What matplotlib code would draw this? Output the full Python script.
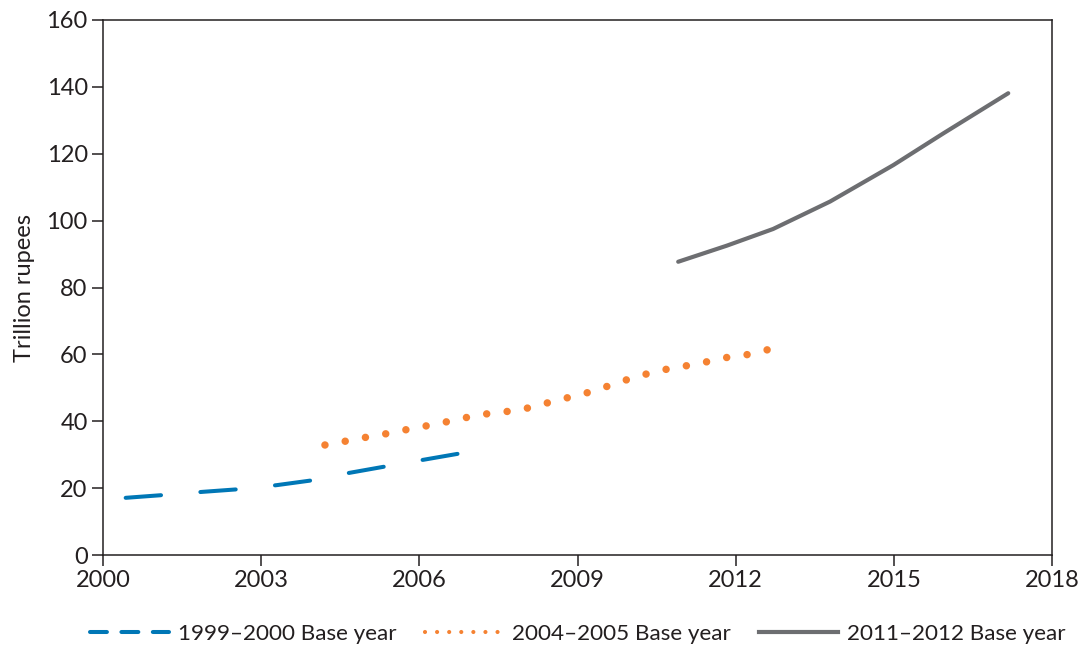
import matplotlib
matplotlib.use("Agg")
import matplotlib.pyplot as plt
from matplotlib.lines import Line2D
import numpy as np

# Data
blue_x = [2000.43, 2001.2, 2001.9, 2002.6, 2003.3, 2004.0, 2004.65, 2005.4, 2006.05, 2006.78]
blue_y = [17.1, 18.0, 18.9, 19.7, 20.9, 22.4, 24.5, 26.6, 28.4, 30.4]

orange_x = [2004.21, 2004.62, 2005.02, 2005.42, 2005.82, 2006.23, 2006.63, 2007.03,
            2007.44, 2007.85, 2008.23, 2008.63, 2009.03, 2009.43, 2009.81, 2010.2,
            2010.6, 2011.0, 2011.4, 2011.8, 2012.21, 2012.61]
orange_y = [32.9, 34.1, 35.3, 36.4, 37.7, 38.9, 40.2, 41.6, 42.6, 43.2, 44.6, 46.4,
            47.8, 49.7, 51.8, 53.7, 55.3, 56.4, 57.6, 59.0, 59.9, 61.4]

gray_x = [2010.91, 2011.83, 2012.71, 2013.79, 2014.99, 2015.94, 2017.17]
gray_y = [87.7, 92.5, 97.5, 105.7, 116.6, 126.1, 138.1]

labels = ["1999\u20132000 Base year", "2004\u20132005 Base year", "2011\u20132012 Base year"]
x_ticks = [2000, 2003, 2006, 2009, 2012, 2015, 2018]
y_ticks = [0, 20, 40, 60, 80, 100, 120, 140, 160]

plt.rcParams['font.family'] = ['Lato', 'DejaVu Sans']

fig = plt.figure(figsize=(10.84, 6.5), dpi=100)
ax = fig.add_axes([103/1084, 1-555/650, (1052-103)/1084, (555-20)/650])

c_blue = '#0077B6'
c_orange = '#F58232'
c_gray = '#6D6E71'
c_text = '#231F20'
fs = 17

ax.set_xlim(2000, 2018)
ax.set_ylim(0, 160)

ax.plot(blue_x, blue_y, color=c_blue, lw=2.9, linestyle=(0, (8.8, 9.8)),
        dash_capstyle='round')

# fit the dot spacing so that dots land on both ends of the orange path
dot_lw = 5.4
pts = ax.transData.transform(np.column_stack([orange_x, orange_y]))
path_len = np.sum(np.hypot(*np.diff(pts, axis=0).T))
lw_px = dot_lw * fig.dpi / 72
n_gaps = max(1, int(round(path_len / 21.0)))
off = (path_len / n_gaps) / lw_px * 0.998
ax.plot(orange_x, orange_y, color=c_orange, lw=dot_lw, linestyle=(0, (0.001, off)),
        dash_capstyle='round')
ax.plot(gray_x, gray_y, color=c_gray, lw=3.0, solid_capstyle='round')

ax.set_xticks(x_ticks)
ax.set_yticks(y_ticks)
ax.tick_params(axis='both', direction='out', length=8, width=1.1, labelsize=fs,
               colors=c_text, pad=3)
for s in ax.spines.values():
    s.set_linewidth(1.1)
    s.set_color(c_text)
ax.set_ylabel("Trillion rupees", fontsize=fs, color=c_text, labelpad=8)

handles = [
    Line2D([], [], color=c_blue, lw=2.9, linestyle=(0, (4.2, 3.6)), dash_capstyle='round'),
    Line2D([], [], color=c_orange, lw=3.0, linestyle=(0, (0.001, 2.9)), dash_capstyle='round'),
    Line2D([], [], color=c_gray, lw=3.0),
]
leg = fig.legend(handles, labels, loc='center', bbox_to_anchor=(0.533, 1-634/650), ncol=3,
                 frameon=False, fontsize=16.2, handlelength=3.5, columnspacing=1.25,
                 handletextpad=0.4)
for t in leg.get_texts():
    t.set_color(c_text)

fig.savefig("out.png", dpi=100)
